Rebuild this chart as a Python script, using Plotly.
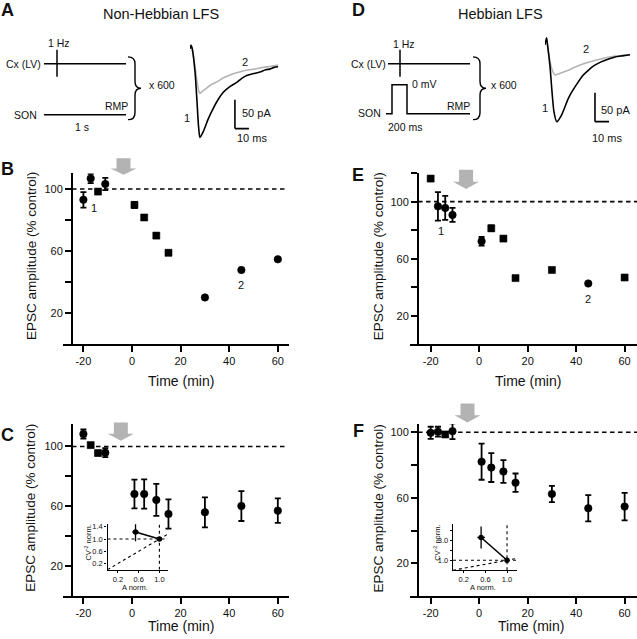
import plotly.graph_objects as go

W, H = 637, 639

# ---------------- data ----------------
time_min = [-20, -17, -14, -11, 1, 5, 10, 15, 30, 45, 60]

# B: non-Hebbian LFS, single cell
nonhebb_cell = [93.0, 106.8, 98.3, 103.2, 89.7, 81.6, 69.9, 58.8, 30.0, 47.7, 54.6]
nonhebb_cell_err = [5.0, 3.0, 1.5, 4.0, 2.0, 1.5, 1.5, 1.5, 0, 0, 0]
# E: Hebbian LFS, single cell
hebb_cell = [116.2, 96.7, 95.6, 90.7, 72.2, 81.3, 74.1, 46.4, 52.1, 42.6, 46.8]
hebb_cell_err = [1.5, 10.0, 8.4, 4.9, 3.0, 2.0, 1.0, 1.5, 1.5, 0, 1.5]
# C: non-Hebbian LFS, mean
nonhebb_mean = [108.3, 100.9, 95.6, 95.8, 68.2, 68.2, 64.3, 54.9, 56.0, 60.2, 57.1]
nonhebb_mean_err = [3.0, 1.5, 1.5, 3.0, 9.6, 9.8, 10.7, 9.8, 10.0, 10.0, 8.2]
# F: Hebbian LFS, mean
hebb_mean = [99.6, 100.3, 98.6, 100.6, 82.0, 78.4, 76.0, 69.2, 62.3, 53.6, 54.6]
hebb_mean_err = [3.7, 3.0, 1.5, 4.8, 11.0, 8.8, 6.9, 5.6, 5.0, 8.0, 8.4]

# CV^-2 insets
cv_a_nonhebb = [0.54, 1.0]
cv_a_nonhebb_err = [0.06, 0]
cv_nonhebb = [1.23, 1.0]
cv_nonhebb_err = [0.30, 0]
cv_a_hebb = [0.52, 1.0]
cv_a_hebb_err = [0.07, 0]
cv_hebb = [3.28, 1.0]
cv_hebb_err = [1.10, 0]

# EPSC traces (ms, pA)
traceA1_t = [0, 0.7, 1.6, 3.6, 5.0, 6.1, 7.1, 9.5, 12.9, 16.6, 20.0, 23.8, 28.0, 33.4, 37.0, 40.5, 45.0, 50.0, 54.0, 57.1, 60.0, 63.1]
traceA1_i = [0, 6, 0, -40, -91, -134, -153, -143, -122, -103, -88, -75, -66, -58, -51, -46, -43, -40, -36, -35, -32, -31]
traceA2_t = [0, 0.7, 1.6, 3.6, 5.0, 6.4, 7.1, 9.0, 11.9, 15.0, 19.1, 24.0, 28.6, 34.0, 40.5, 46.0, 52.4, 58.0, 63.1]
traceA2_i = [0, 6, 0, -31, -57, -74, -77, -73, -68, -62, -57, -50, -45, -41, -37, -35, -32, -30, -28]
traceD1_t = [0, 1.1, 1.8, 3.6, 5.0, 6.4, 8.4, 11.9, 16.6, 20.0, 23.8, 27.0, 30.9, 35.0, 40.5, 45.0, 50.0, 55.0, 60.7]
traceD1_i = [0, 12, 0, -38, -81, -116, -133, -121, -93, -78, -64, -53, -44, -36, -29, -25, -21, -19, -17]
traceD2_t = [0, 1.1, 1.8, 3.6, 5.7, 7.1, 10.0, 16.6, 22.0, 28.6, 34.0, 40.5, 46.0, 52.4, 60.7]
traceD2_i = [0, 12, 0, -29, -47, -52, -50, -44, -38, -32, -28, -24, -21, -19, -17]

# ---------------- helpers ----------------
def xd(a, b):
    return [a / W, b / W]

def yd(top, bottom):
    return [1 - bottom / H, 1 - top / H]

def px(x):
    return x / W

def py(y):
    return 1 - y / H

FONT = "Arial, Liberation Sans, Helvetica, sans-serif"
INK = "#111111"

panels = {
    "B": dict(xdom=(63, 289), xr=[-28.4, 64.6], ydom=(172, 343), yr=[0, 110], ypos=-24.7),
    "C": dict(xdom=(63, 289), xr=[-28.4, 64.6], ydom=(423.3, 596), yr=[0, 115], ypos=-24.7),
    "E": dict(xdom=(410.3, 637), xr=[-28.4, 65.1], ydom=(171.7, 343.3), yr=[0, 120], ypos=-25.2),
    "F": dict(xdom=(410.3, 637), xr=[-28.4, 65.1], ydom=(423.3, 596), yr=[0, 105], ypos=-25.2),
}

def t2px(p, t):
    a, b = p["xdom"]
    r0, r1 = p["xr"]
    return a + (t - r0) / (r1 - r0) * (b - a)

fig = go.Figure()

axis_ids = {"B": ("x", "y"), "C": ("x2", "y2"), "E": ("x3", "y3"), "F": ("x4", "y4")}
series = {
    "B": (nonhebb_cell, nonhebb_cell_err),
    "C": (nonhebb_mean, nonhebb_mean_err),
    "E": (hebb_cell, hebb_cell_err),
    "F": (hebb_mean, hebb_mean_err),
}

for key, (vals, errs) in series.items():
    xa, ya = axis_ids[key]
    symbols = ["square" if 0 < e <= 2 else "circle" for e in errs]
    sizes = [7 if s == "square" else 7.5 for s in symbols]
    fig.add_trace(go.Scatter(
        x=time_min, y=vals, mode="markers", xaxis=xa, yaxis=ya,
        marker=dict(color="black", symbol=symbols, size=sizes, opacity=1,
                    line=dict(width=0.6, color="black")),
        error_y=dict(type="data", array=errs, visible=True, color="black", thickness=1.8, width=3),
        showlegend=False, hoverinfo="skip", cliponaxis=False))

# insets
for (xa, ya, ax_, axe, cv, cve) in [("x5", "y5", cv_a_nonhebb, cv_a_nonhebb_err, cv_nonhebb, cv_nonhebb_err),
                                    ("x6", "y6", cv_a_hebb, cv_a_hebb_err, cv_hebb, cv_hebb_err)]:
    fig.add_trace(go.Scatter(
        x=ax_, y=cv, mode="lines+markers", xaxis=xa, yaxis=ya,
        line=dict(color="black", width=1.6),
        marker=dict(color="black", size=5.5, opacity=1),
        error_y=dict(type="data", array=cve, visible=True, color="black", thickness=1.3, width=0),
        error_x=dict(type="data", array=axe, visible=True, color="black", thickness=1.3, width=0),
        showlegend=False, hoverinfo="skip", cliponaxis=False))

# EPSC traces
for xa, ya, t, i, c in [("x7", "y7", traceA2_t, traceA2_i, "#b4b4b4"),
                        ("x7", "y7", traceA1_t, traceA1_i, "black"),
                        ("x8", "y8", traceD2_t, traceD2_i, "#b4b4b4"),
                        ("x8", "y8", traceD1_t, traceD1_i, "black")]:
    fig.add_trace(go.Scatter(x=t, y=i, mode="lines", xaxis=xa, yaxis=ya,
                             line=dict(color=c, width=1.6, shape="spline", smoothing=0.6),
                             showlegend=False, hoverinfo="skip", cliponaxis=False))

layout = dict(width=W, height=H, margin=dict(l=0, r=0, t=0, b=0),
              paper_bgcolor="white", plot_bgcolor="rgba(0,0,0,0)",
              font=dict(family=FONT, color=INK), showlegend=False)

for key, p in panels.items():
    xa, ya = axis_ids[key]
    xname = "xaxis" + xa[1:]
    yname = "yaxis" + ya[1:]
    yt = [20, 40, 60, 80, 100] + ([120] if key == "E" else [])
    ytt = ["20", "", "60", "", "100"] + ([""] if key == "E" else [])
    layout[xname] = dict(domain=xd(*p["xdom"]), range=p["xr"], anchor=ya,
                         showline=True, linewidth=2, linecolor="black", ticks="outside",
                         ticklen=6, tickwidth=2, tickcolor="black", showgrid=False, zeroline=False,
                         tickvals=[-20, 0, 20, 40, 60], ticktext=["-20", "0", "20", "40", "60"],
                         tickfont=dict(size=11, family=FONT, color=INK))
    layout[yname] = dict(domain=yd(*p["ydom"]), range=p["yr"], anchor="free",
                         position=t2px(p, p["ypos"]) / W,
                         showline=True, linewidth=2, linecolor="black", ticks="outside",
                         ticklen=6, tickwidth=2, tickcolor="black", showgrid=False, zeroline=False,
                         tickvals=yt, ticktext=ytt, tickfont=dict(size=11, family=FONT, color=INK))

inset_common = dict(showline=True, linewidth=1.4, linecolor="black", ticks="outside", ticklen=2,
                    tickwidth=1.2, tickcolor="black", showgrid=False, zeroline=False,
                    tickfont=dict(size=7.5, family=FONT, color=INK))
layout["xaxis5"] = dict(domain=xd(107.5, 167.7), range=[0, 1.16], anchor="y5",
                        tickvals=[0.2, 0.6, 1.0], ticktext=["0.2", "0.6", "1.0"], **inset_common)
layout["yaxis5"] = dict(domain=yd(524, 569.5), range=[0, 1.48], anchor="x5",
                        tickvals=[0.2, 0.6, 1.0, 1.4], ticktext=["0.2", "0.6", "1.0", "1.4"], **inset_common)
layout["xaxis6"] = dict(domain=xd(453, 517.3), range=[0, 1.19], anchor="y6",
                        tickvals=[0.2, 0.6, 1.0], ticktext=["0.2", "0.6", "1.0"], **inset_common)
layout["yaxis6"] = dict(domain=yd(524, 570), range=[0, 4.6], anchor="x6",
                        tickvals=[1, 2, 3, 4], ticktext=["1.0", "", "3.0", ""], **inset_common)

hidden = dict(visible=False, showgrid=False, zeroline=False)
layout["xaxis7"] = dict(domain=xd(190, 278.3), range=[0, 63.1], anchor="y7", **hidden)
layout["yaxis7"] = dict(domain=yd(40, 140), range=[-160.3, 12.1], anchor="x7", **hidden)
layout["xaxis8"] = dict(domain=xd(545, 630), range=[0, 60.7], anchor="y8", **hidden)
layout["yaxis8"] = dict(domain=yd(30, 125), range=[-141.4, 22.4], anchor="x8", **hidden)

fig.update_layout(**layout)

shapes = []
# dashed 100% lines
for key, x1 in [("B", 63.8), ("C", 63.8), ("E", 65.1), ("F", 65.1)]:
    xa, ya = axis_ids[key]
    shapes.append(dict(type="line", xref=xa, yref=ya, x0=panels[key]["ypos"], x1=x1, y0=100, y1=100,
                       line=dict(color="black", width=1.6, dash="4.5px,3.5px")))

# gray LFS arrows
def arrow(p, t, top, tip):
    cx = t2px(p, t)
    mid = top + (tip - top) * 0.62
    pts = [(cx - 7, top), (cx + 7, top), (cx + 7, mid), (cx + 13, mid), (cx, tip), (cx - 13, mid), (cx - 7, mid)]
    path = "M " + " L ".join(f"{px(a):.5f},{py(b):.5f}" for a, b in pts) + " Z"
    return dict(type="path", xref="paper", yref="paper", path=path,
                fillcolor="#b3b3b3", line=dict(width=0))

shapes.append(arrow(panels["B"], -3.5, 156.7, 173.3))
shapes.append(arrow(panels["C"], -4.6, 421.7, 440.0))
shapes.append(arrow(panels["E"], -5.4, 168.3, 187.7))
shapes.append(arrow(panels["F"], -4.8, 402.7, 421.7))

# inset reference lines
for xa, ya, xmax, ymax in [("x5", "y5", 1.16, 1.48), ("x6", "y6", 1.19, 4.6)]:
    dl = dict(color="black", width=1.1, dash="dot")
    shapes.append(dict(type="line", xref=xa, yref=ya, x0=0, x1=xmax, y0=1, y1=1, line=dl))
    shapes.append(dict(type="line", xref=xa, yref=ya, x0=1, x1=1, y0=0, y1=ymax, line=dl))
    d = min(xmax, ymax)
    shapes.append(dict(type="line", xref=xa, yref=ya, x0=0, x1=d, y0=0, y1=d, line=dl))

# scale bars (50 pA, 10 ms)
for xa, ya, t0, i0 in [("x7", "y7", 32.1, -137.9), ("x8", "y8", 35.7, -132.8)]:
    sb = dict(color="black", width=1.6)
    shapes.append(dict(type="line", xref=xa, yref=ya, x0=t0, x1=t0, y0=i0, y1=i0 + 50, line=sb))
    shapes.append(dict(type="line", xref=xa, yref=ya, x0=t0, x1=t0 + 10, y0=i0, y1=i0, line=sb))

# stimulation schematics
def seg(pts, w=1.5):
    path = "M " + " L ".join(f"{px(a):.5f},{py(b):.5f}" for a, b in pts)
    return dict(type="path", xref="paper", yref="paper", path=path, line=dict(color="black", width=w))

shapes.append(seg([(44, 62), (126, 62)]))
shapes.append(seg([(57, 48), (57, 75)]))
shapes.append(seg([(44, 113), (126, 113)]))
shapes.append(seg([(388, 62), (470, 62)]))
shapes.append(seg([(400, 48), (400, 75)]))
shapes.append(seg([(386, 112), (392, 112), (392, 83), (407, 83), (407, 112), (470, 112)]))

def brace(x0, xm, xt, y0, y1):
    ym = (y0 + y1) / 2
    r = 7
    P = lambda a, b: f"{px(a):.5f},{py(b):.5f}"
    path = (f"M {P(x0, y0)} Q {P(xm, y0)} {P(xm, y0 + r)} L {P(xm, ym - r)} "
            f"Q {P(xm, ym)} {P(xt, ym)} Q {P(xm, ym)} {P(xm, ym + r)} L {P(xm, y1 - r)} "
            f"Q {P(xm, y1)} {P(x0, y1)}")
    return dict(type="path", xref="paper", yref="paper", path=path, line=dict(color="black", width=1.4))

shapes.append(brace(128, 135, 141, 55, 118))
shapes.append(brace(473, 480, 486, 55, 118))

fig.update_layout(shapes=shapes)

ann = []
def txt(x, y, s, size=11, xanchor="center", bold=False, angle=0):
    ann.append(dict(x=px(x), y=py(y), xref="paper", yref="paper", text=f"<b>{s}</b>" if bold else s,
                    showarrow=False, xanchor=xanchor, yanchor="middle", textangle=angle,
                    font=dict(size=size, family=FONT, color=INK)))

# panel letters
txt(7.5, 8, "A", 18, bold=True)
txt(358, 8, "D", 18, bold=True)
txt(7, 168, "B", 18, bold=True)
txt(358, 174, "E", 18, bold=True)
txt(7, 434, "C", 18, bold=True)
txt(358, 430, "F", 18, bold=True)

# titles
txt(160.5, 12, "Non-Hebbian LFS", 14.5)
txt(500, 12, "Hebbian LFS", 14.5)

# schematic labels A
txt(58.5, 41, "1 Hz", 10.5)
txt(43, 62.5, "Cx (LV)", 10.5, xanchor="right")
txt(162, 83, "x 600", 10.5)
txt(116, 104, "RMP", 10.5)
txt(25.3, 113.3, "SON", 10.5)
txt(81.5, 125, "1 s", 10.5)
# schematic labels D
txt(403.5, 41.7, "1 Hz", 10.5)
txt(388, 61.7, "Cx (LV)", 10.5, xanchor="right")
txt(424, 82.5, "0 mV", 10.5)
txt(504, 83.3, "x 600", 10.5)
txt(459, 104, "RMP", 10.5)
txt(369, 111.7, "SON", 10.5)
txt(404.5, 125, "200 ms", 10.5)

# trace labels
txt(245.3, 60, "2", 11)
txt(187, 116.7, "1", 11)
txt(256.7, 111.7, "50 pA", 11)
txt(251.7, 136, "10 ms", 11)
txt(585.5, 46.7, "2", 11)
txt(545, 106.7, "1", 11)
txt(615, 108.3, "50 pA", 11)
txt(607, 136.7, "10 ms", 11)

# axis titles
for xx, yy in [(31.7, 255), (378, 255), (30.3, 507), (378, 508)]:
    txt(xx, yy, "EPSC amplitude (% control)", 13.5, angle=-90)
for xx, yy in [(180.5, 380), (528, 380), (180.5, 626), (530.7, 626)]:
    txt(xx, yy, "Time (min)", 14)

# inset titles
txt(88.3, 542, "CV<sup>-2</sup> norm.", 7.5, angle=-90)
txt(135, 587.5, "A norm.", 7.5)
txt(437.5, 543, "CV<sup>-2</sup> norm.", 7.5, angle=-90)
txt(483, 587.5, "A norm.", 7.5)

# cell labels 1 / 2 in B and E (data coords)
for xa, ya, t, v, s in [("x", "y", -15.6, 88, "1"), ("x", "y", 45, 38.1, "2"),
                        ("x3", "y3", -15.9, 79.2, "1"), ("x3", "y3", 45, 31.8, "2")]:
    ann.append(dict(x=t, y=v, xref=xa, yref=ya, text=s, showarrow=False,
                    font=dict(size=11, family=FONT, color=INK)))

fig.update_layout(annotations=ann)
fig.write_html("out.html", config={"displayModeBar": False},
               post_script="document.body.style.margin='0px';document.body.style.padding='0px';")
